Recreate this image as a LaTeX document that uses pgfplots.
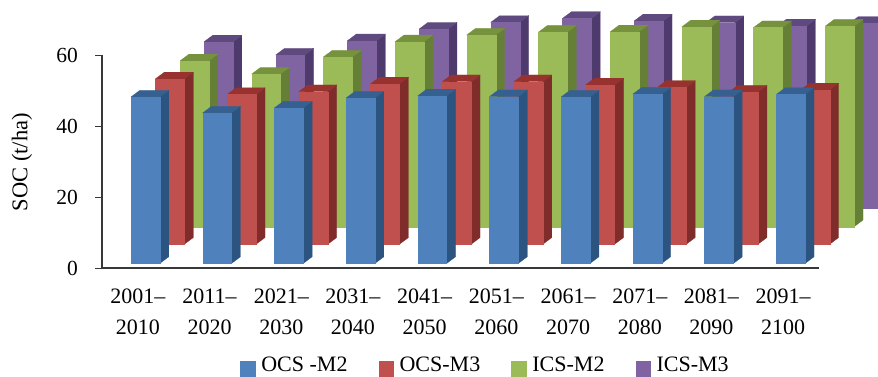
\documentclass[border=0pt]{standalone}
\usepackage{pgfplots}
\usepackage{pgfplotstable}
\usepackage{fontspec}
\setmainfont{Liberation Serif}
\pgfplotsset{compat=1.18}

\definecolor{blueF}{HTML}{4F81BD}\definecolor{blueS}{HTML}{2C5480}\definecolor{blueT}{HTML}{35608F}
\definecolor{redF}{HTML}{C0504D}\definecolor{redS}{HTML}{7F2C2A}\definecolor{redT}{HTML}{98322F}
\definecolor{greenF}{HTML}{9BBB59}\definecolor{greenS}{HTML}{667F36}\definecolor{greenT}{HTML}{76923C}
\definecolor{purpleF}{HTML}{8064A2}\definecolor{purpleS}{HTML}{4F3A6E}\definecolor{purpleT}{HTML}{5F4A80}

% Bar heights per decade, t/ha
\pgfplotstableread{
idx ocsm2 ocsm3 icsm2 icsm3
0   46.9  46.6  46.7  46.8
1   42.4  42.2  43.0  43.1
2   43.8  43.0  47.8  47.1
3   46.6  45.2  52.1  50.4
4   47.2  45.8  54.0  52.3
5   47.0  45.8  54.8  53.4
6   46.9  44.9  54.9  52.7
7   47.7  44.2  56.3  52.2
8   47.0  42.9  56.1  51.3
9   47.6  43.5  56.5  52.0
}\soctable

% Bar geometry in axis units: front width, depth shift in x and y
\def\barw{0.404}
\def\depthx{0.1255}
\def\depthy{1.89}

% #1 column, #2 x shift of the series, #3 floor level of the series, #4 colour stem
\newcommand\drawseries[4]{%
  \pgfplotsinvokeforeach{0,...,9}{%
    \pgfplotstablegetelem{##1}{#1}\of\soctable
    \pgfmathsetmacro\xa{##1+#2}%
    \pgfmathsetmacro\xb{\xa+\barw}%
    \pgfmathsetmacro\xc{\xa+\depthx}%
    \pgfmathsetmacro\xd{\xb+\depthx}%
    \pgfmathsetmacro\ya{#3}%
    \pgfmathsetmacro\yb{#3+\pgfplotsretval}%
    \pgfmathsetmacro\yc{\ya+\depthy}%
    \pgfmathsetmacro\yd{\yb+\depthy}%
    \addplot[forget plot,no markers,fill=#4S,draw=#4S,line width=0.2pt]
      coordinates {(\xb,\ya) (\xd,\yc) (\xd,\yd) (\xb,\yb)};
    \addplot[forget plot,no markers,fill=#4T,draw=#4T,line width=0.2pt]
      coordinates {(\xa,\yb) (\xc,\yd) (\xd,\yd) (\xb,\yb)};
    \addplot[forget plot,no markers,fill=#4F,draw=#4F,line width=0.2pt]
      coordinates {(\xa,\ya) (\xb,\ya) (\xb,\yb) (\xa,\yb)};
  }%
}

\begin{document}
\begin{tikzpicture}[x=1pt,y=1pt]
\path[use as bounding box,clip] (0,0) rectangle (878,376);
\begin{axis}[
  at={(102pt,108pt)}, anchor=south west,
  scale only axis, width=717pt, height=213pt,
  xmin=-0.5, xmax=9.5, ymin=0, ymax=60,
  clip=false,
  axis x line=bottom, axis y line=left,
  axis line style={-, draw=black!78, line width=1.1pt},
  xtick={0,...,9},
  xticklabels={{2001–\\2010},{2011–\\2020},{2021–\\2030},{2031–\\2040},{2041–\\2050},
               {2051–\\2060},{2061–\\2070},{2071–\\2080},{2081–\\2090},{2091–\\2100}},
  x tick style={draw=none},
  x tick label style={align=center, font=\fontsize{22}{31}\selectfont, inner sep=0pt, yshift=-14pt},
  ytick={0,20,40,60},
  y tick style={draw=black!78, line width=1pt},
  tick align=outside, major tick length=7pt,
  y tick label style={font=\fontsize{21.5}{25}\selectfont, inner sep=0pt, xshift=-17pt},
  /pgf/number format/assume math mode=true,
  ylabel={SOC (t/ha)},
  every axis y label/.style={at={(axis description cs:-0.1116,0.497)}, rotate=90, anchor=center,
    font=\fontsize{22.5}{26}\selectfont},
  legend columns=4,
  legend cell align=left,
  legend style={at={(axis description cs:0.1925,-0.463)}, anchor=west, draw=none, fill=none,
    inner sep=0pt, font=\fontsize{22}{25}\selectfont,
    nodes={inner sep=0pt},
    /tikz/column 1/.style={column sep=6.4pt},
    /tikz/column 2/.style={column sep=31pt},
    /tikz/column 3/.style={column sep=6.4pt},
    /tikz/column 4/.style={column sep=31pt},
    /tikz/column 5/.style={column sep=6.4pt},
    /tikz/column 6/.style={column sep=31pt},
    /tikz/column 7/.style={column sep=6.4pt}},
  legend image code/.code={\fill[#1] (0pt,-10.5pt) rectangle (14.3pt,3.8pt);},
]
  \drawseries{icsm3}{0.921}{16.9}{purple}
  \drawseries{icsm2}{0.586}{11.63}{green}
  \drawseries{ocsm3}{0.244}{6.68}{red}
  \drawseries{ocsm2}{-0.098}{1.27}{blue}
  \addlegendimage{blueF}   \addlegendentry{OCS -M2}
  \addlegendimage{redF}    \addlegendentry{OCS-M3}
  \addlegendimage{greenF}  \addlegendentry{ICS-M2}
  \addlegendimage{purpleF} \addlegendentry{ICS-M3}
\end{axis}
\end{tikzpicture}
\end{document}
